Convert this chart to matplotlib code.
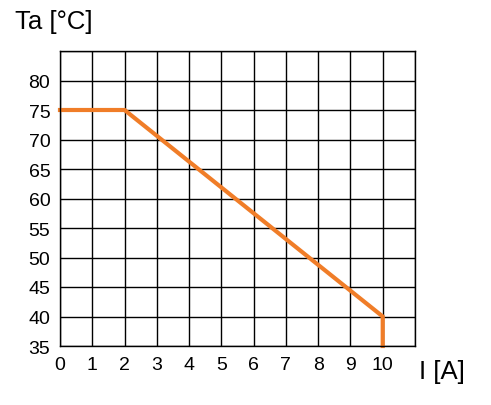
import matplotlib.pyplot as plt
import numpy as np

plt.rcParams['font.family'] = ['Liberation Sans', 'DejaVu Sans']

# derating curve: ambient temperature vs current
current = [0, 2, 10, 10]
temp = [75, 75, 40, 35]
x_ticks = list(range(0, 11))
y_ticks = list(range(35, 85, 5))

fig = plt.figure(figsize=(4.91, 4.06), dpi=100)
ax = fig.add_axes([60 / 491, 1 - 347 / 406, 355 / 491, 295 / 406])

ax.set_xlim(0, 11)
ax.set_ylim(35, 85)
ax.set_xticks(range(0, 12))
ax.set_xticklabels([str(t) for t in x_ticks] + [''])
ax.set_yticks(range(35, 90, 5))
ax.set_yticklabels([str(t) for t in y_ticks] + [''])
ax.grid(True, color='black', linewidth=1.0)
ax.set_axisbelow(True)
for s in ax.spines.values():
    s.set_linewidth(1.0)
ax.tick_params(length=0, labelsize=14, pad=7)

ax.plot(current, temp, color='#F07D28', linewidth=3.0, solid_joinstyle='miter', clip_on=False)

fig.text(15 / 491, 1 - 22 / 406, 'Ta [°C]', fontsize=18.5, va='center', ha='left')
fig.text(419 / 491, 1 - 372 / 406, 'I [A]', fontsize=18.5, va='center', ha='left')

fig.savefig('out.png', dpi=100)
